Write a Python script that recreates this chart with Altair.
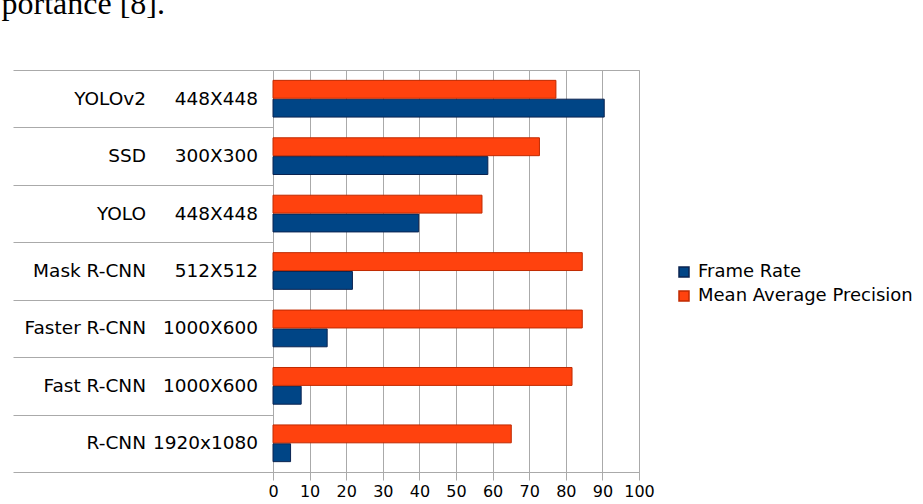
import altair as alt
import pandas as pd

models = ["YOLOv2", "SSD", "YOLO", "Mask R-CNN", "Faster R-CNN", "Fast R-CNN", "R-CNN"]
resolutions = ["448X448", "300X300", "448X448", "512X512", "1000X600", "1000X600", "1920x1080"]
frame_rate = [90.5, 58.7, 39.8, 21.7, 14.8, 7.7, 4.8]
mean_ap = [77.3, 72.8, 57.1, 84.5, 84.5, 81.7, 65.1]
series = ["Frame Rate", "Mean Average Precision"]
x_ticks = [0, 10, 20, 30, 40, 50, 60, 70, 80, 90, 100]
header_text = ["portance [8]."]

rows = []
for m, r, f, a in zip(models, resolutions, frame_rate, mean_ap):
    rows.append({"model": m, "res": r, "series": series[0], "value": f})
    rows.append({"model": m, "res": r, "series": series[1], "value": a})
df = pd.DataFrame(rows)
labels = pd.DataFrame({"model": models, "res": resolutions})
header = pd.DataFrame({"t": header_text})

FONT = "DejaVu Sans"
GRID = "#aaaaaa"

bars = alt.Chart(df).mark_bar(strokeWidth=1).encode(
    x=alt.X("value:Q", scale=alt.Scale(domain=[0, 100], nice=False),
            axis=alt.Axis(values=x_ticks, title=None, grid=True, gridColor=GRID,
                          tickSize=8, tickColor=GRID, domainColor=GRID,
                          labelFont=FONT, labelFontSize=16, labelColor="black",
                          labelPadding=3, format="d", labelFlush=False)),
    y=alt.Y("model:N", sort=models, scale=alt.Scale(paddingInner=0, paddingOuter=0),
            axis=alt.Axis(title=None, labels=False, tickBand="extent", tickSize=260,
                          tickColor=GRID, domainColor=GRID, grid=False)),
    yOffset=alt.YOffset("series:N", sort=[series[1], series[0]],
                        scale=alt.Scale(paddingInner=0.05, paddingOuter=0.55)),
    color=alt.Color("series:N", scale=alt.Scale(domain=series, range=["#004586", "#ff420e"]),
                    legend=alt.Legend(title=None, orient="none", legendX=402, legendY=193,
                                      symbolType="square", symbolSize=100,
                                      labelFont=FONT, labelFontSize=18, labelColor="black",
                                      labelLimit=400, rowPadding=6, labelOffset=5, padding=0)),
    stroke=alt.Stroke("series:N", scale=alt.Scale(domain=series, range=["#0a2350", "#c02a00"]),
                      legend=None),
)

names_text = alt.Chart(labels).mark_text(
    align="right", baseline="middle", font=FONT, fontSize=18.5, color="black"
).encode(y=alt.Y("model:N", sort=models), text="model:N", x=alt.value(-127))

res_text = alt.Chart(labels).mark_text(
    align="right", baseline="middle", font=FONT, fontSize=18.5, color="black"
).encode(y=alt.Y("model:N", sort=models), text="res:N", x=alt.value(-15))

header_mark = alt.Chart(header).mark_text(
    align="right", baseline="alphabetic", font="Liberation Serif", fontSize=32, color="black"
).encode(text="t:N", x=alt.value(-108), y=alt.value(-56))

chart = alt.layer(bars, names_text, res_text, header_mark).properties(
    width=366, height=402,
    autosize=alt.AutoSizeParams(type="none"),
    padding={"left": 273, "top": 70, "right": 284, "bottom": 32},
).configure_view(stroke=GRID)

chart.save("out.html", embed_options={"renderer": "svg", "actions": False})
